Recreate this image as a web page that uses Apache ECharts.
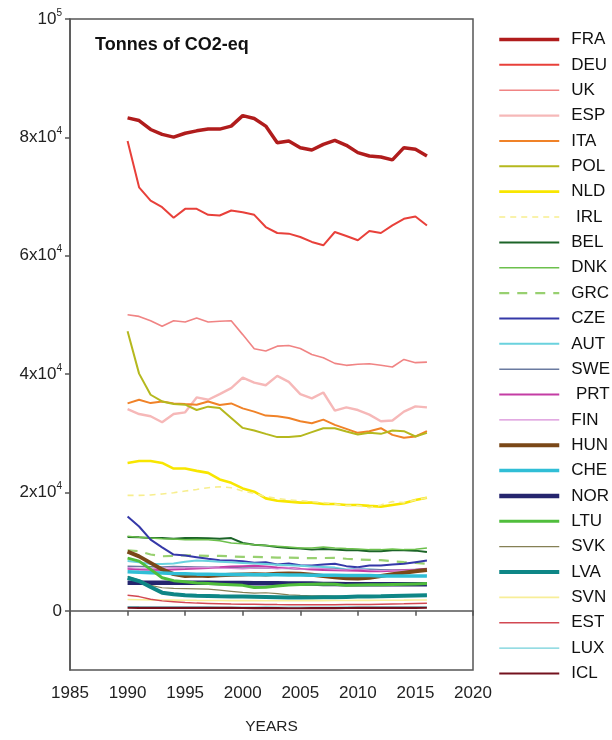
<!DOCTYPE html>
<html>
<head>
<meta charset="utf-8">
<script src="https://cdn.jsdelivr.net/npm/echarts@6/dist/echarts.min.js"></script>
<style>html,body{margin:0;padding:0;background:#fff}#c{width:612px;height:740px}</style>
</head>
<body>
<div id="c"></div>
<script>
const years = [1990,1991,1992,1993,1994,1995,1996,1997,1998,1999,2000,2001,2002,2003,2004,2005,2006,2007,2008,2009,2010,2011,2012,2013,2014,2015,2016];
const xTicks = [1985,1990,1995,2000,2005,2010,2015,2020];
const yTicks = [0,20000,40000,60000,80000,100000];

const FRA = [83300,82840,81330,80500,80040,80700,81100,81400,81400,81900,83680,83180,81900,79100,79380,78260,77870,78820,79490,78650,77420,76860,76690,76190,78260,77980,76860];
const DEU = [79380,71560,69310,68200,66410,67920,67920,66910,66800,67640,67360,66910,64850,63840,63730,63170,62330,61760,64010,63340,62610,64180,63840,65120,66240,66630,65120];
const UK  = [50030,49750,49020,48080,49020,48800,49470,48800,48920,49020,46670,44270,43890,44720,44830,44330,43320,42760,41810,41480,41650,41760,41480,41200,42480,41930,42030];
const ESP = [34090,33250,32870,31860,33250,33540,36060,35670,36610,37620,39410,38570,38120,39690,38690,36610,35890,36890,33820,34380,33930,33150,32030,32150,33660,34550,34380];
const ITA = [35050,35670,35100,35380,35050,34930,34830,35380,34770,35050,34210,33660,32990,32870,32590,32030,31700,32310,31410,30740,30070,30350,30860,29730,29230,29460,30350];
const POL = [47240,40080,36510,35380,34930,34830,33930,34500,34270,32590,30910,30470,29900,29350,29350,29520,30190,30860,30860,30300,29800,30070,29900,30470,30350,29460,30070];
const NLD = [24990,25320,25320,24990,24040,24040,23650,23310,22190,21630,20680,20120,19000,18610,18450,18280,18280,18060,18060,17890,17890,17730,17610,17890,18170,18730,19120];
const IRL = [19510,19510,19570,19740,19960,20240,20510,20800,20960,20800,20240,19850,19290,19000,18730,18610,18450,18280,18060,17780,17780,17440,17890,18450,18280,18730,19120];
const BEL = [12460,12410,12290,12290,12190,12290,12290,12250,12190,12290,11460,11180,11020,10780,10610,10510,10340,10450,10340,10230,10230,10060,10060,10230,10230,10170,9950];
const DNK = [12580,12410,12290,12190,12150,12020,12070,12020,11850,11460,11350,11180,11020,10900,10780,10610,10610,10780,10610,10510,10450,10340,10340,10450,10340,10400,10610];
const GRC = [10230,10060,9510,9220,9280,9390,9330,9300,9280,9200,9110,9100,9050,9000,8980,8940,8900,8920,8940,8800,8670,8600,8550,8390,8220,8110,7940];
const CZE = [15930,14250,12020,10730,9510,9340,9060,8780,8550,8500,8390,8110,8220,7830,8000,7710,7660,7830,7940,7550,7380,7660,7660,7830,7940,8220,8500];
const AUT = [8400,8200,7900,7900,8000,8300,8500,8400,8300,8200,8100,8000,7900,7800,7700,7600,7500,7400,7300,7000,7100,7000,6900,6900,6800,6800,6900];
const SWE = [7550,7500,7450,7400,7500,7450,7400,7350,7300,7300,7250,7250,7200,7200,7150,7100,7100,7050,7050,6950,6950,7000,6950,6950,6950,7000,7050];
const PRT = [7100,7000,6950,6900,7000,7050,7150,7250,7350,7500,7550,7600,7500,7300,7250,7100,7000,6900,6850,6800,6750,6700,6700,6750,6850,6950,7100];
const FIN = [7300,7150,7100,7200,7300,7250,7350,7300,7200,7150,7100,7200,7250,7100,7300,7000,7200,7150,7000,6900,7100,6900,6800,6900,6850,6900,6950];
const HUN = [10000,9200,8100,7000,6200,5900,5950,5900,6000,6100,6150,6200,6150,6250,6300,6250,6100,5900,5650,5500,5450,5600,5900,6200,6450,6700,6900];
const CHE = [6600,6500,6450,6400,6300,6250,6200,6200,6150,6150,6150,6100,6100,6100,6050,6050,6000,6000,6000,5950,5950,5950,5900,5900,5900,5900,5870];
const NOR = [4750,4750,4750,4750,4750,4750,4750,4750,4700,4700,4700,4650,4650,4650,4600,4600,4600,4550,4550,4500,4470,4470,4470,4470,4470,4470,4470];
const LTU = [8900,8400,7000,5600,5100,4900,4700,4600,4500,4400,4300,3950,4000,4200,4350,4450,4500,4550,4500,4300,4350,4400,4400,4450,4500,4550,4600];
const SVK = [5800,5200,4300,3900,3800,3750,3700,3650,3500,3300,3100,3000,3050,2900,2700,2600,2550,2550,2500,2350,2400,2400,2400,2450,2450,2500,2550];
const LVA = [5590,5030,4020,3070,2790,2630,2550,2500,2450,2420,2400,2380,2350,2300,2250,2230,2250,2280,2300,2350,2400,2420,2450,2500,2550,2600,2630];
const SVN = [1900,1880,1850,1820,1800,1780,1760,1750,1740,1730,1720,1720,1710,1700,1700,1710,1720,1730,1740,1750,1760,1770,1780,1790,1800,1820,1840];
const EST = [2630,2400,1960,1680,1550,1400,1300,1250,1200,1150,1120,1100,1080,1050,1030,1010,1020,1030,1040,1050,1060,1080,1120,1160,1200,1250,1290];
const LUX = [720,700,690,680,670,660,650,650,640,640,630,640,650,640,620,610,620,630,640,650,660,660,650,650,660,660,670];
const ICL = [520,510,510,500,500,500,500,500,490,490,480,470,450,440,430,430,440,450,470,480,490,490,500,500,510,510,520];

const seriesDefs = [
  ['FRA', FRA, '#B01C1C', 3.5, 'solid'],
  ['DEU', DEU, '#E8403A', 2, 'solid'],
  ['UK',  UK,  '#F08484', 1.6, 'solid'],
  ['ESP', ESP, '#F6B8B8', 2.4, 'solid'],
  ['ITA', ITA, '#F08228', 2, 'solid'],
  ['POL', POL, '#B5B81E', 2, 'solid'],
  ['NLD', NLD, '#F8E600', 2.6, 'solid'],
  ['IRL', IRL, '#F7EE8E', 1.6, [6,5]],
  ['BEL', BEL, '#1C6428', 2, 'solid'],
  ['DNK', DNK, '#6CC04C', 1.5, 'solid'],
  ['GRC', GRC, '#98D070', 2.2, [10,8]],
  ['CZE', CZE, '#3538A8', 2, 'solid'],
  ['AUT', AUT, '#6AD2DE', 2, 'solid'],
  ['SWE', SWE, '#6A7AA0', 1.5, 'solid'],
  ['PRT', PRT, '#C43CA4', 2, 'solid'],
  ['FIN', FIN, '#D88ED8', 1.2, 'solid'],
  ['HUN', HUN, '#7A4818', 4, 'solid'],
  ['CHE', CHE, '#30BED6', 3.5, 'solid'],
  ['NOR', NOR, '#25256E', 4.5, 'solid'],
  ['LTU', LTU, '#50BE3C', 3, 'solid'],
  ['SVK', SVK, '#858055', 1.2, 'solid'],
  ['LVA', LVA, '#0E8686', 4, 'solid'],
  ['SVN', SVN, '#F8EE98', 1.6, 'solid'],
  ['EST', EST, '#D24852', 1.5, 'solid'],
  ['LUX', LUX, '#72D0DA', 1.2, 'solid'],
  ['ICL', ICL, '#74121E', 2.2, 'solid']
];

const FONT = 'Arial, "Liberation Sans", sans-serif';

const chart = echarts.init(document.getElementById('c'), null, {renderer: 'canvas'});
chart.setOption({
  animation: false,
  backgroundColor: '#fff',
  grid: {left: 70, top: 19, right: 139, bottom: 65, show: true, borderColor: '#555', borderWidth: 1.5, backgroundColor: 'transparent'},
  graphic: [{
    type: 'text', left: 95, top: 36,
    style: {text: 'Tonnes of CO2-eq', font: 'bold 18px ' + FONT, fill: '#111'}
  }],
  legend: {
    orient: 'vertical', left: 497, top: 31, padding: 0,
    itemWidth: 60, itemHeight: 14, itemGap: 8.36,
    selectedMode: false,
    itemStyle: {opacity: 0},
    formatter: function (n) { return (n === 'IRL' || n === 'PRT') ? ' ' + n : n; },
    textStyle: {fontSize: 17, fontFamily: FONT, color: '#111', padding: [0, 0, 0, 7]},
    data: seriesDefs.map(d => ({
      name: d[0],
      itemStyle: {opacity: 0},
      lineStyle: {color: d[2], width: d[3], type: d[4]}
    }))
  },
  xAxis: {
    type: 'value', min: 1985, max: 2020, interval: 5,
    name: 'YEARS', nameLocation: 'middle', nameGap: 49,
    nameTextStyle: {fontSize: 15.5, fontFamily: FONT, color: '#222'},
    axisLine: {show: true, lineStyle: {color: '#555', width: 1.5}},
    axisTick: {show: true, inside: false, length: 5, lineStyle: {color: '#555', width: 1.5}, customValues: xTicks},
    axisLabel: {fontSize: 17, fontFamily: FONT, color: '#222', margin: 15, customValues: xTicks,
      formatter: function (v) { return String(v); }},
    splitLine: {show: false}
  },
  yAxis: {
    type: 'value', min: -10000, max: 100000,
    axisLine: {show: true, lineStyle: {color: '#555', width: 1.5}},
    axisTick: {show: true, inside: false, length: 5, lineStyle: {color: '#555', width: 1.5}, customValues: yTicks},
    axisLabel: {
      customValues: yTicks, margin: 8, fontSize: 17, fontFamily: FONT, color: '#222',
      formatter: function (v) {
        if (v === 0) return '0';
        if (v === 100000) return '10{sup|5}';
        return (v / 10000) + 'x10{sup|4}';
      },
      rich: {sup: {fontSize: 10, fontFamily: FONT, color: '#222', padding: [0, 0, 12, 0]}}
    },
    splitLine: {show: false}
  },
  series: seriesDefs.map(d => ({
    name: d[0], type: 'line', symbol: 'none', showSymbol: false,
    color: d[2],
    lineStyle: {color: d[2], width: d[3], type: d[4]},
    data: years.map((y, i) => [y, d[1][i]])
  }))
});
</script>
</body>
</html>
